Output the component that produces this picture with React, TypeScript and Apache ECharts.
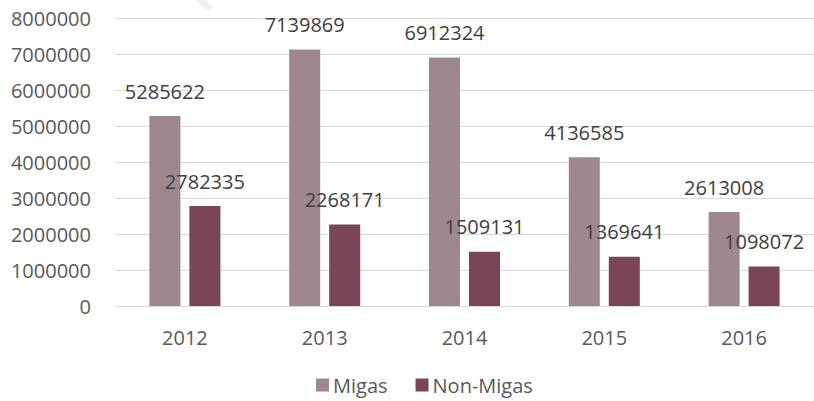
import React, { useEffect, useRef } from "react";
import * as echarts from "echarts";

const years = ["2012", "2013", "2014", "2015", "2016"];
const migas = [5285622, 7139869, 6912324, 4136585, 2613008];
const nonMigas = [2782335, 2268171, 1509131, 1369641, 1098072];

const FONT = "Open Sans";

export default function App() {
  const ref = useRef<HTMLDivElement>(null);
  useEffect(() => {
    document.body.style.margin = "0";
    const chart = echarts.init(ref.current!, null, { renderer: "svg" });
    chart.setOption({
      animation: false,
      backgroundColor: "#ffffff",
      textStyle: { fontFamily: FONT },
      grid: { left: 115, right: 0, top: 18.5, bottom: 95, containLabel: false },
      legend: {
        bottom: 1,
        left: 311,
        itemWidth: 13,
        itemHeight: 13,
        itemGap: 28,
        icon: "rect",
        textStyle: { fontFamily: FONT, fontSize: 20, color: "#595959", padding: [0, 0, 0, -1] },
        data: ["Migas", "Non-Migas"],
      },
      graphic: [
        {
          type: "line",
          shape: { x1: 198, y1: -2, x2: 211, y2: 9 },
          style: { stroke: "#eeeeee", lineWidth: 6 },
          silent: true,
        },
      ],
      xAxis: {
        type: "category",
        data: years,
        axisLine: { lineStyle: { color: "#d9d9d9", width: 1 } },
        axisTick: { show: false },
        axisLabel: { fontFamily: FONT, fontSize: 20, color: "#595959", margin: 21 },
      },
      yAxis: {
        type: "value",
        min: 0,
        max: 8000000,
        interval: 1000000,
        axisLine: { show: false },
        axisTick: { show: false },
        splitLine: { lineStyle: { color: "#d9d9d9", width: 1 } },
        axisLabel: {
          fontFamily: FONT,
          fontSize: 20,
          color: "#595959",
          margin: 24,
          formatter: (v: number) => String(v),
        },
      },
      series: [
        {
          name: "Migas",
          type: "bar",
          data: migas,
          barWidth: 31,
          barGap: "29%",
          itemStyle: { color: "#9d888d" },
          label: {
            show: true,
            position: "top",
            distance: 15,
            fontFamily: FONT,
            fontSize: 20,
            color: "#404040",
          },
        },
        {
          name: "Non-Migas",
          type: "bar",
          data: nonMigas,
          barWidth: 31,
          itemStyle: { color: "#7a4556" },
          label: {
            show: true,
            position: "top",
            distance: 15,
            fontFamily: FONT,
            fontSize: 20,
            color: "#404040",
          },
        },
      ],
    });
    return () => chart.dispose();
  }, []);
  return <div ref={ref} style={{ width: 814, height: 401 }} />;
}
